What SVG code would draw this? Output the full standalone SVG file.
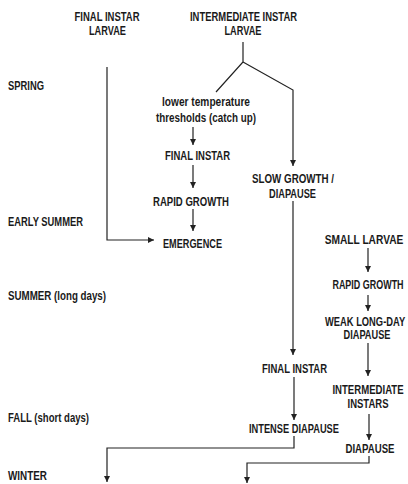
<svg xmlns="http://www.w3.org/2000/svg" width="408" height="484" viewBox="0 0 408 484">
<style>
text{font-family:"Liberation Sans",Arial,sans-serif;font-weight:bold;font-size:12px;fill:#1a1a1a}
.c{text-anchor:middle}
.ln{fill:none;stroke:#222;stroke-width:1.2}
</style>
<defs>
<marker id="ah" markerUnits="userSpaceOnUse" markerWidth="6" markerHeight="6" refX="6" refY="3" orient="auto">
<path d="M0,0 L6,3 L0,6 z" fill="#222"/>
</marker>
</defs>
<rect width="408" height="484" fill="#fff"/>
<g id="seasons">
<text x="8" y="90" textLength="36" lengthAdjust="spacingAndGlyphs">SPRING</text>
<text x="8" y="226" textLength="75" lengthAdjust="spacingAndGlyphs">EARLY SUMMER</text>
<text x="8" y="300" textLength="98" lengthAdjust="spacingAndGlyphs">SUMMER (long days)</text>
<text x="8" y="422" textLength="81" lengthAdjust="spacingAndGlyphs">FALL (short days)</text>
<text x="8" y="479.5" textLength="39" lengthAdjust="spacingAndGlyphs">WINTER</text>
</g>
<g id="n-final-larvae">
<text class="c" x="107" y="21" textLength="65" lengthAdjust="spacingAndGlyphs">FINAL INSTAR</text>
<text class="c" x="107.5" y="35" textLength="37" lengthAdjust="spacingAndGlyphs">LARVAE</text>
</g>
<g id="n-inter-larvae">
<text class="c" x="243.5" y="21" textLength="107" lengthAdjust="spacingAndGlyphs">INTERMEDIATE INSTAR</text>
<text class="c" x="243" y="35" textLength="37" lengthAdjust="spacingAndGlyphs">LARVAE</text>
</g>
<g id="n-lower">
<text class="c" x="206" y="106" textLength="88" lengthAdjust="spacingAndGlyphs">lower temperature</text>
<text class="c" x="206" y="121.5" textLength="100" lengthAdjust="spacingAndGlyphs">thresholds (catch up)</text>
</g>
<g id="n-final1"><text class="c" x="197.5" y="160" textLength="65" lengthAdjust="spacingAndGlyphs">FINAL INSTAR</text></g>
<g id="n-rapid1"><text class="c" x="191" y="205.5" textLength="76" lengthAdjust="spacingAndGlyphs">RAPID GROWTH</text></g>
<g id="n-emergence"><text class="c" x="192.5" y="247.5" textLength="59" lengthAdjust="spacingAndGlyphs">EMERGENCE</text></g>
<g id="n-slow">
<text class="c" x="293" y="182.5" textLength="82" lengthAdjust="spacingAndGlyphs">SLOW GROWTH /</text>
<text class="c" x="292.5" y="197.5" textLength="47" lengthAdjust="spacingAndGlyphs">DIAPAUSE</text>
</g>
<g id="n-final2"><text class="c" x="294.5" y="372.5" textLength="65" lengthAdjust="spacingAndGlyphs">FINAL INSTAR</text></g>
<g id="n-intense"><text class="c" x="294" y="432.5" textLength="90" lengthAdjust="spacingAndGlyphs">INTENSE DIAPAUSE</text></g>
<g id="n-small"><text class="c" x="0" y="0" transform="translate(364,244) scale(0.85,1)">SMALL LARVAE</text></g>
<g id="n-rapid2"><text class="c" x="0" y="0" transform="translate(368,289) scale(0.747,1)">RAPID GROWTH</text></g>
<g id="n-weak">
<text x="0" y="0" transform="translate(325,326) scale(0.779,1)">WEAK LONG-DAY</text>
<text class="c" x="367" y="339" textLength="47" lengthAdjust="spacingAndGlyphs">DIAPAUSE</text>
</g>
<g id="n-intermediate">
<text class="c" x="0" y="0" transform="translate(368,393.5) scale(0.8,1)">INTERMEDIATE</text>
<text class="c" x="368" y="407.5" textLength="41" lengthAdjust="spacingAndGlyphs">INSTARS</text>
</g>
<g id="n-diapause"><text class="c" x="370" y="452.5" textLength="49" lengthAdjust="spacingAndGlyphs">DIAPAUSE</text></g>
<g id="connectors" class="ln">
<path class="ln" d="M107,67 V240 H154" marker-end="url(#ah)"/>
<path class="ln" d="M243,42 V62 L216,92"/>
<path class="ln" d="M243,62 L293,90 V166" marker-end="url(#ah)"/>
<path class="ln" d="M193,127 V145" marker-end="url(#ah)"/>
<path class="ln" d="M193,165 V188" marker-end="url(#ah)"/>
<path class="ln" d="M193,209 V231" marker-end="url(#ah)"/>
<path class="ln" d="M293,201 V355" marker-end="url(#ah)"/>
<path class="ln" d="M294,377 V420" marker-end="url(#ah)"/>
<path class="ln" d="M294,436 V448 H107 V482" marker-end="url(#ah)"/>
<path class="ln" d="M368,248 V272" marker-end="url(#ah)"/>
<path class="ln" d="M368,295 V311" marker-end="url(#ah)"/>
<path class="ln" d="M368,343 V376" marker-end="url(#ah)"/>
<path class="ln" d="M369,414 V440" marker-end="url(#ah)"/>
<path class="ln" d="M369,456 V463 H247 V483" marker-end="url(#ah)"/>
</g>
</svg>
